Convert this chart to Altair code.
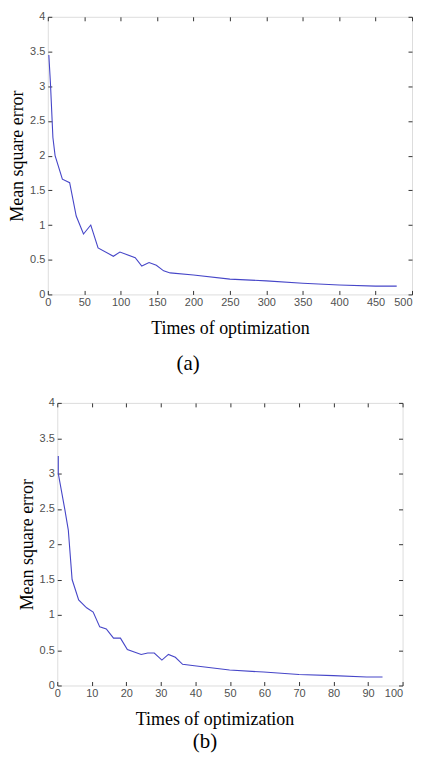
import altair as alt
import pandas as pd

# Panel (a)
a_x = [1.4, 3.6, 7, 10, 20, 30, 39, 49, 59, 69, 90, 99, 120, 129, 139, 149, 159, 168, 200, 250, 300, 350, 400, 450, 479]
a_y = [3.45, 3.05, 2.26, 2.0, 1.66, 1.61, 1.13, 0.87, 1.0, 0.67, 0.55, 0.61, 0.53, 0.41, 0.46, 0.42, 0.34, 0.31, 0.28, 0.22, 0.195, 0.16, 0.135, 0.12, 0.12]

# Panel (b)
b_x = [0.3, 0.3, 2.2, 3.2, 4.3, 6.2, 8.5, 10.4, 12.3, 14.2, 16.3, 18.3, 20.3, 24.3, 26.2, 28.1, 30.3, 32.2, 34.2, 36.3, 39.7, 49.9, 59.8, 70, 80, 89.6, 94.2]
b_y = [3.25, 3.0, 2.49, 2.2, 1.5, 1.21, 1.10, 1.04, 0.83, 0.80, 0.67, 0.67, 0.51, 0.44, 0.46, 0.46, 0.36, 0.44, 0.40, 0.30, 0.28, 0.22, 0.19, 0.155, 0.14, 0.12, 0.12]

a_xticks = [0, 50, 100, 150, 200, 250, 300, 350, 400, 450, 500]
b_xticks = [0, 10, 20, 30, 40, 50, 60, 70, 80, 90, 100]
y_ticks = [0, 0.5, 1, 1.5, 2, 2.5, 3, 3.5, 4]

LINE = "#4646c8"
FRAME = "#333333"
LABEL = "#505050"
SERIF = "Liberation Serif"
SANS = "Liberation Sans"


def panel(xs, ys, xmax, xticks, w, h, caption, xtitle_x, xtitle_pad, cap_dx, cap_offset):
    df = pd.DataFrame({"x": xs, "y": ys})
    xscale = alt.Scale(domain=[0, xmax], nice=False, zero=False)
    yscale = alt.Scale(domain=[0, 4], nice=False)
    main = alt.Chart(df).mark_line(color=LINE, strokeWidth=1.1).encode(
        x=alt.X("x:Q", scale=xscale,
                axis=alt.Axis(values=xticks, orient="bottom", offset=-4, tickSize=4,
                              domain=False, grid=False, tickColor=FRAME,
                              labelFont=SANS, labelFontSize=11, labelColor=LABEL,
                              labelPadding=2, labelFlush=False,
                              labelAlign={"condition": {"test": f"datum.value == {xmax}", "value": "right"}, "value": "center"},
                              title="Times of optimization", titleFont=SERIF,
                              titleFontSize=18, titleFontWeight="normal",
                              titleColor="black", titlePadding=xtitle_pad, titleX=xtitle_x)),
        y=alt.Y("y:Q", scale=yscale,
                axis=alt.Axis(values=y_ticks, orient="left", offset=-4, tickSize=4,
                              domain=False, grid=False, tickColor=FRAME,
                              labelFont=SANS, labelFontSize=11, labelColor=LABEL,
                              labelPadding=3, labelFlush=False, format="~g",
                              title="Mean square error", titleFont=SERIF,
                              titleFontSize=18, titleFontWeight="normal",
                              titleColor="black", titlePadding=3)),
    )
    ghost = alt.Chart(df).mark_line(strokeOpacity=0).encode(
        x=alt.X("x:Q", scale=xscale,
                axis=alt.Axis(values=xticks, orient="top", offset=-4, tickSize=4,
                              domain=False, grid=False, tickColor=FRAME,
                              labels=False, title=None)),
        y=alt.Y("y:Q", scale=yscale,
                axis=alt.Axis(values=y_ticks, orient="right", offset=-4, tickSize=4,
                              domain=False, grid=False, tickColor=FRAME,
                              labels=False, title=None)),
    )
    return alt.layer(main, ghost).resolve_axis(x="independent", y="independent").properties(
        width=w, height=h,
        title=alt.TitleParams(caption, orient="bottom", font=SERIF, fontSize=21,
                              fontWeight="normal", color="black", offset=cap_offset,
                              dx=cap_dx),
    )


top = panel(a_x, a_y, 500, a_xticks, 366, 279, "(a)", 183, 12, -42, 16)
bottom = panel(b_x, b_y, 100, b_xticks, 347, 284, "(b)", 158, 12, -25, 3)

chart = alt.vconcat(top, bottom, spacing=21, center=True).properties(
    padding=0
).configure_view(
    stroke=FRAME, strokeWidth=1
).configure(background="white")

chart.save("out.html", embed_options={"renderer": "svg", "actions": False})
